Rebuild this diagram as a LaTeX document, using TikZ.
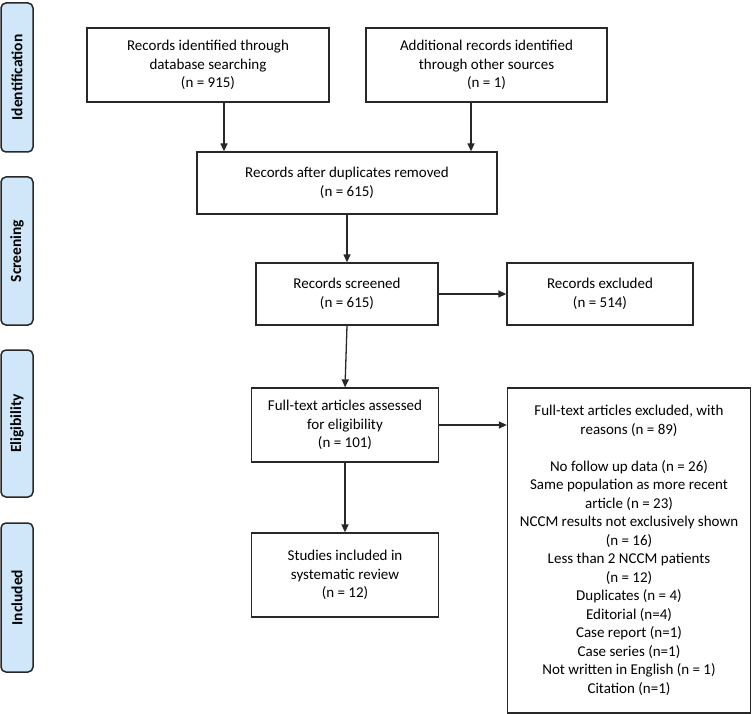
\documentclass[tikz,border=0pt]{standalone}
\usepackage{fontspec}
\setmainfont{Carlito}
\usetikzlibrary{arrows.meta}
\definecolor{phaseblue}{RGB}{207,231,248}
\definecolor{linegray}{RGB}{40,40,40}
\begin{document}
\begin{tikzpicture}[x=1pt,y=-1pt,
  box/.style={draw=linegray, line width=1.3pt, align=center, inner sep=0pt,
    font=\fontsize{15}{18.5}\selectfont},
  phase/.style={draw=linegray, fill=phaseblue, rounded corners=5pt, line width=1.5pt,
    rotate=90, inner sep=0pt, font=\bfseries\fontsize{15.5}{16}\selectfont},
  arr/.style={-{Triangle[length=8pt,width=7pt]}, line width=1.3pt, draw=linegray}]
\useasboundingbox (0,0) rectangle (752,714);
% phases
\node[phase, minimum width=149pt, minimum height=32pt] (pid) at (17,77.5) {Identification};
\node[phase, minimum width=148pt, minimum height=32pt] (psc) at (17,251) {Screening};
\node[phase, minimum width=147pt, minimum height=32pt] (pel) at (17,423.5) {Eligibility};
\node[phase, minimum width=149pt, minimum height=32pt] (pin) at (17,597.5) {Included};
% boxes
\node[box, minimum width=242pt, minimum height=74pt] (b1) at (208,65)
  {Records identified through\\database searching\\(n = 915)};
\node[box, minimum width=241pt, minimum height=74pt] (b2) at (486.5,65)
  {Additional records identified\\through other sources\\(n = 1)};
\node[box, minimum width=300pt, minimum height=62pt] (b3) at (347,183)
  {Records after duplicates removed\\(n = 615)};
\node[box, minimum width=182pt, minimum height=62pt] (b4) at (347,294)
  {Records screened\\(n = 615)};
\node[box, minimum width=186pt, minimum height=62pt] (b5) at (600,294)
  {Records excluded\\(n = 514)};
\node[box, minimum width=187pt, minimum height=74pt] (b6) at (345,425)
  {Full-text articles assessed\\for eligibility\\(n = 101)};
\node[box, minimum width=243pt, minimum height=325pt] (b7) at (629,550.5)
  {Full-text articles excluded, with\\reasons (n = 89)\\[18.5pt]
   No follow up data (n = 26)\\Same population as more recent\\article (n = 23)\\
   NCCM results not exclusively shown\\(n = 16)\\Less than 2 NCCM patients\\(n = 12)\\
   Duplicates (n = 4)\\Editorial (n=4)\\Case report (n=1)\\Case series (n=1)\\
   Not written in English (n = 1)\\Citation (n=1)};
\node[box, minimum width=187pt, minimum height=84pt] (b8) at (345,575)
  {Studies included in\\systematic review\\(n = 12)};
% connectors
\coordinate (x1) at (224,0);
\coordinate (x2) at (471,0);
\draw[arr] (b1.south -| x1) -- (b3.north -| x1);
\draw[arr] (b2.south -| x2) -- (b3.north -| x2);
\draw[arr] (b3.south) -- (b4.north);
\draw[arr] (b4.east) -- (b5.west);
\draw[arr] (b4.south) -- (b6.north);
\draw[arr] (b6.east) -- (b6.east -| b7.west);
\draw[arr] (b6.south) -- (b8.north);
\end{tikzpicture}
\end{document}
